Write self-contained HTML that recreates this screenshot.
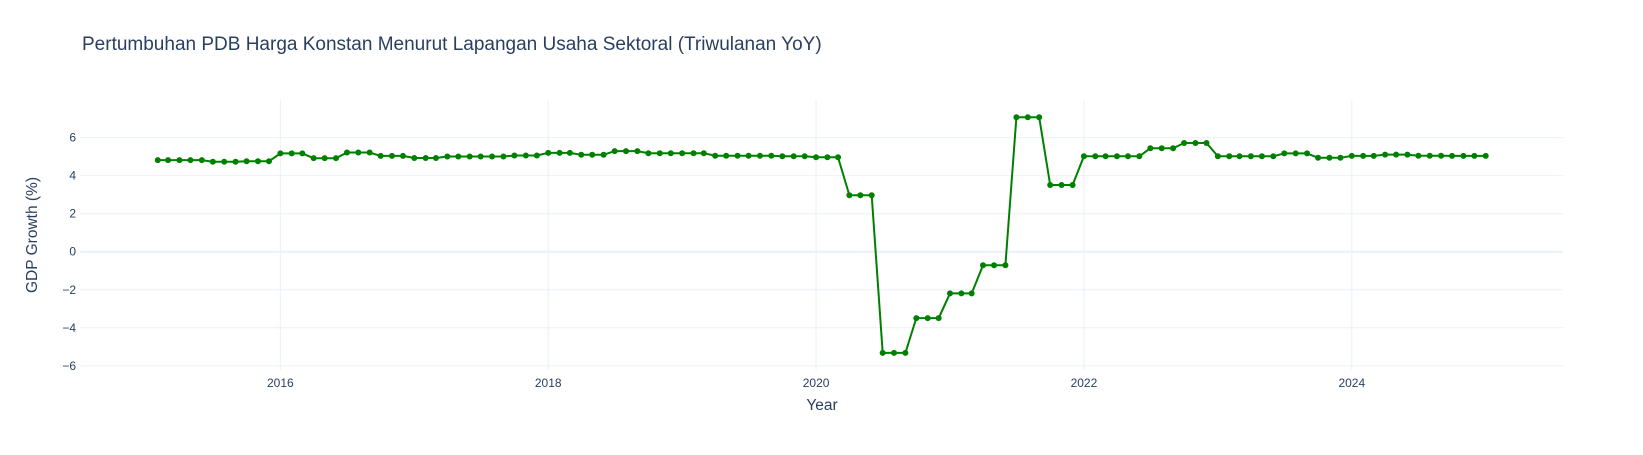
<!DOCTYPE html>
<html><head><meta charset="utf-8">
<style>
body{margin:0;background:#fff;}
svg text{font-family:"Liberation Sans",Arial,sans-serif;fill:#2a3f5f;}
</style></head>
<body>
<svg id="chart" width="1643" height="450" xmlns="http://www.w3.org/2000/svg">
<rect x="0" y="0" width="1643" height="450" fill="#fff"/>
<text x="82" y="50" font-size="19">Pertumbuhan PDB Harga Konstan Menurut Lapangan Usaha Sektoral (Triwulanan YoY)</text>
<g id="grid"></g>
<g id="axes"></g>
<g id="series"></g>
<text x="822" y="410" font-size="15.5" text-anchor="middle">Year</text>
<text transform="translate(37,235) rotate(-90)" font-size="15.5" text-anchor="middle">GDP Growth (%)</text>
</svg>
<script>
const startYear = 2015;
const startMonth = 1; // February (0-based)
const growthValues = [
4.82,4.82,4.82,4.82,4.82,4.73,4.73,4.73,4.76,4.76,4.76,
5.17,5.17,5.17,4.92,4.92,4.92,5.22,5.22,5.22,5.04,5.04,5.04,
4.93,4.93,4.93,5.01,5.01,5.01,5.01,5.01,5.01,5.06,5.06,5.06,
5.20,5.20,5.20,5.10,5.10,5.10,5.29,5.29,5.29,5.18,5.18,5.18,
5.18,5.18,5.18,5.05,5.05,5.05,5.05,5.05,5.05,5.02,5.02,5.02,
4.97,4.97,4.97,2.97,2.97,2.97,-5.32,-5.32,-5.32,-3.49,-3.49,-3.49,
-2.19,-2.19,-2.19,-0.71,-0.71,-0.71,7.07,7.07,7.07,3.51,3.51,3.51,
5.02,5.02,5.02,5.02,5.02,5.02,5.44,5.44,5.44,5.72,5.72,5.72,
5.02,5.02,5.02,5.02,5.02,5.02,5.17,5.17,5.17,4.94,4.94,4.94,
5.04,5.04,5.04,5.11,5.11,5.11,5.05,5.05,5.05,5.04,5.04,5.04,5.04
];
const xTicks = [2016,2018,2020,2022,2024];
const yTicks = [-6,-4,-2,0,2,4,6];
const yTickLabels = ["\u22126","\u22124","\u22122","0","2","4","6"];

const NS="http://www.w3.org/2000/svg";
const L=80,R=1563,T=100,B=370;
const xMin=2014.504,xMax=2025.577,yMin=-6.22,yMax=7.98;
function xs(v){return L+(v-xMin)/(xMax-xMin)*(R-L);}
function ys(v){return B-(v-yMin)/(yMax-yMin)*(B-T);}
function yearFrac(y,m){const d=new Date(Date.UTC(y,m,1));const s=Date.UTC(y,0,1),e=Date.UTC(y+1,0,1);return y+(d-s)/(e-s);}
function mk(tag,attrs,parent){const el=document.createElementNS(NS,tag);for(const k in attrs)el.setAttribute(k,attrs[k]);parent.appendChild(el);return el;}
const grid=document.getElementById('grid'),axes=document.getElementById('axes'),series=document.getElementById('series');

yTicks.forEach((t,i)=>{
  const y=ys(t);
  const ln=mk('line',{x1:L,x2:R,y1:y,y2:y,stroke:'#EBF0F8','stroke-width':t===0?2:1},grid);
  
  
  const tx=mk('text',{x:L-4,y:y+4,'font-size':12,'text-anchor':'end'},axes);
  tx.textContent=yTickLabels[i];
  
  
});
xTicks.forEach(t=>{
  const x=xs(yearFrac(t,0));
  const ln=mk('line',{x1:x,x2:x,y1:T,y2:B,stroke:'#EBF0F8','stroke-width':1},grid);
  
  
  const tx=mk('text',{x:x,y:B+17,'font-size':12,'text-anchor':'middle'},axes);
  tx.textContent=String(t);
  
  
});
const pts=growthValues.map((v,i)=>{const m=startMonth+i;return [xs(yearFrac(startYear+Math.floor(m/12),m%12)),ys(v)];});
const line=mk('polyline',{points:pts.map(p=>p[0].toFixed(1)+','+p[1].toFixed(1)).join(' '),fill:'none',stroke:'green','stroke-width':2},series);


pts.forEach(p=>{
  const c=mk('circle',{cx:p[0],cy:p[1],r:3,fill:'green'},series);
  
  
});
</script>
</body></html>
